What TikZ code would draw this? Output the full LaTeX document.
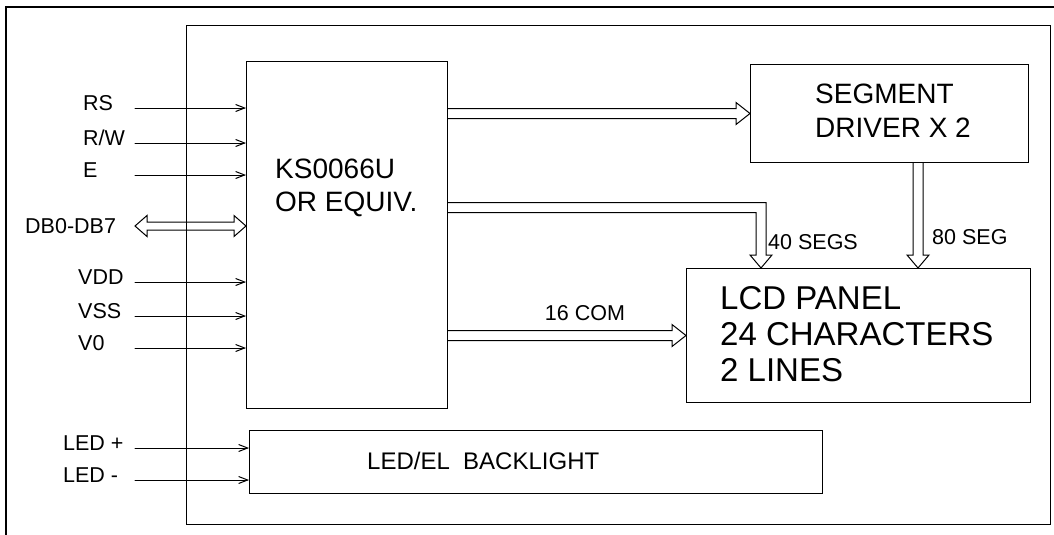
\documentclass[tikz,border=0pt]{standalone}
\usepackage{fontspec}
\setmainfont{Liberation Sans}
\usetikzlibrary{arrows.meta,calc}
\tikzset{
  blk/.style={draw, line width=1pt, inner sep=0pt, anchor=north west},
  sig/.style={line width=1pt, -{Straight Barb[length=9pt,width=7pt]}},
  bus/.style={line width=1pt, line join=miter},
  pin/.style={anchor=west, inner sep=0pt, text height=15pt, text depth=0pt, font=\fontsize{21.5}{26}\selectfont},
  big/.style={anchor=west, inner sep=0pt, align=left}
}
% hollow bus arrows: #1 start, #2 tip
\newcommand{\busright}[2]{%
  \draw[bus] ($(#1)+(0,-5)$) -- ($(#2)+(-14,-5)$) -- ($(#2)+(-14,-11)$) -- (#2)
    -- ($(#2)+(-14,11)$) -- ($(#2)+(-14,5)$) -- ($(#1)+(0,5)$);}
\newcommand{\busdown}[2]{%
  \draw[bus] ($(#1)+(-5,0)$) -- ($(#2)+(-5,-13)$) -- ($(#2)+(-11,-13)$) -- (#2)
    -- ($(#2)+(11,-13)$) -- ($(#2)+(5,-13)$) -- ($(#1)+(5,0)$);}
\begin{document}
\begin{tikzpicture}[x=1pt, y=-1pt, line cap=round]
	\useasboundingbox (0,0) rectangle (1054,535);
	% frames
	\draw[line width=2pt] (6,535) -- (6,7) -- (1054,7);
	\draw[line width=1pt] (186,26) rectangle (1050,524);
	% blocks
	\node[blk, minimum width=201pt, minimum height=347pt] (ks) at (246,61) {};
	\node[blk, minimum width=278pt, minimum height=98pt] (seg) at (750,64) {};
	\node[blk, minimum width=344pt, minimum height=134pt] (lcd) at (686,268) {};
	\node[blk, minimum width=573pt, minimum height=63pt] (bl) at (249,430) {};
	\node[big, font=\fontsize{28}{33}\selectfont] (kstxt) at (275,188) {KS0066U\\OR EQUIV.};
	\node[big, font=\fontsize{28}{34}\selectfont] (segtxt) at (815,111) {SEGMENT\\DRIVER X 2};
	\node[big, font=\fontsize{33}{36}\selectfont] (lcdtxt) at (720,334) {LCD PANEL\\24 CHARACTERS\\2 LINES};
	\node[big, font=\fontsize{24}{28}\selectfont] (bltxt) at (367,461) {LED/EL\ \ BACKLIGHT};
	% pin labels
	\node[pin] (lrs) at (83,103) {RS};
	\node[pin] (lrw) at (83,138) {R/W};
	\node[pin] (le) at (83,170) {E};
	\node[pin] (ldb) at (25,226) {DB0-DB7};
	\node[pin] (lvdd) at (78,277) {VDD};
	\node[pin] (lvss) at (78,311) {VSS};
	\node[pin] (lv0) at (78,343) {V0};
	\node[pin] (lledp) at (63,443) {LED +};
	\node[pin] (lledm) at (63,475) {LED -};
	% pin lines
	\coordinate (rs) at (135,108);
	\coordinate (rw) at (135,143);
	\coordinate (e) at (135,175);
	\coordinate (vdd) at (135,282);
	\coordinate (vss) at (135,316);
	\coordinate (v0) at (135,348);
	\coordinate (ledp) at (135,448);
	\coordinate (ledm) at (135,480);
	\draw[sig] (rs) -- (rs -| ks.west);
	\draw[sig] (rw) -- (rw -| ks.west);
	\draw[sig] (e) -- (e -| ks.west);
	\draw[sig] (vdd) -- (vdd -| ks.west);
	\draw[sig] (vss) -- (vss -| ks.west);
	\draw[sig] (v0) -- (v0 -| ks.west);
	\draw[sig] (ledp) -- (ledp -| bl.west);
	\draw[sig] (ledm) -- (ledm -| bl.west);
	% data bus
	\coordinate (db) at (135,226);
	\coordinate (dbin) at (db -| ks.west);
	\draw[bus] (db) -- ($(db)+(12,-10.5)$) -- ($(db)+(12,-4)$) -- ($(dbin)+(-12,-4)$)
		-- ($(dbin)+(-12,-10.5)$) -- (dbin) -- ($(dbin)+(-12,10.5)$) -- ($(dbin)+(-12,4)$)
		-- ($(db)+(12,4)$) -- ($(db)+(12,10.5)$) -- cycle;
	% internal buses
	\coordinate (segin) at (ks.east |- seg.west);
	\busright{segin}{seg.west};
	\coordinate (comout) at (ks.east |- lcd.west);
	\busright{comout}{lcd.west};
	\coordinate (segout) at ($(seg.south west)+(168,0)$);
	\coordinate (lcdin) at (segout |- lcd.north);
	\busdown{segout}{lcdin};
	\coordinate (segsA) at ($(ks.east)+(0,-27.5)$);
	\coordinate (lcdtap) at ($(lcd.north west)+(75,0)$);
	\draw[bus] ($(segsA)+(0,-5)$) -| ($(lcdtap)+(5,-13)$) -- ($(lcdtap)+(11,-13)$) -- (lcdtap)
		-- ($(lcdtap)+(-11,-13)$) -- ($(lcdtap)+(-5,-13)$) |- ($(segsA)+(0,5)$);
	\node[pin] (l40) at (768,242) {40 SEGS};
	\node[pin] (l80) at (932,237) {80 SEG};
	\node[pin, anchor=center] (l16) at (585,313) {16 COM};
\end{tikzpicture}
\end{document}
